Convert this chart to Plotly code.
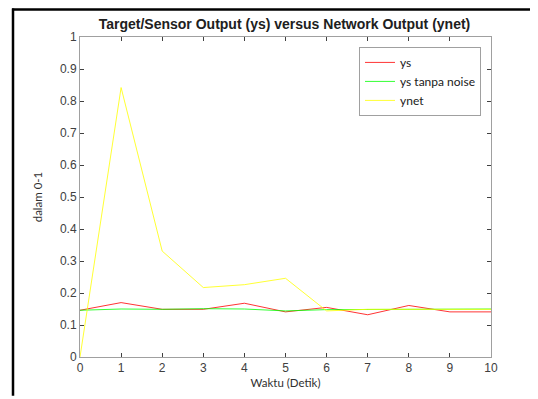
import plotly.graph_objects as go

waktu = [0, 1, 2, 3, 4, 5, 6, 7, 8, 9, 10]
ys = [0.146, 0.170, 0.149, 0.149, 0.168, 0.141, 0.155, 0.132, 0.161, 0.141, 0.141]
ys_tanpa_noise = [0.146, 0.150, 0.149, 0.151, 0.150, 0.144, 0.148, 0.149, 0.149, 0.150, 0.150]
ynet = [0.0, 0.842, 0.331, 0.217, 0.226, 0.246, 0.144, 0.149, 0.149, 0.149, 0.149]
y_ticks = [0, 0.1, 0.2, 0.3, 0.4, 0.5, 0.6, 0.7, 0.8, 0.9, 1]
y_ticktext = ["0", "0.1", "0.2", "0.3", "0.4", "0.5", "0.6", "0.7", "0.8", "0.9", "1"]

# page has an 8px body margin; figure is sized/offset to compensate
OFF = 8
W, H = 538 - OFF, 399 - OFF
L, R, T, B = 80 - OFF, 47, 37 - OFF, 39
pw, ph = W - L - R, H - T - B

def px(x):  # page x -> paper
    return (x - OFF - L) / pw

def py(y):  # page y -> paper
    return (H - B - (y - OFF)) / ph

fig = go.Figure()
fig.add_trace(go.Scatter(x=waktu, y=ys, mode="lines", name="ys",
                         line=dict(color="#ff0000", width=0.8)))
fig.add_trace(go.Scatter(x=waktu, y=ys_tanpa_noise, mode="lines", name="ys tanpa noise",
                         line=dict(color="#00ff00", width=0.8)))
fig.add_trace(go.Scatter(x=waktu, y=ynet, mode="lines", name="ynet",
                         line=dict(color="#ffff00", width=0.8)))

axis_common = dict(showgrid=False, zeroline=False, showline=True, linecolor="#a0a0a0",
                   linewidth=1, mirror="ticks", ticks="inside", ticklen=4,
                   tickcolor="#404040", tickwidth=1,
                   tickfont=dict(family="Liberation Sans, Arial", size=12, color="#404040"))

fig.update_layout(
    width=W, height=H,
    margin=dict(l=L, r=R, t=T, b=B),
    paper_bgcolor="white", plot_bgcolor="white",
    title=dict(text="<b>Target/Sensor Output (ys) versus Network Output (ynet)</b>",
               x=(284.5 - OFF) / W, xanchor="center", y=1 - (24 - OFF) / H, yanchor="middle",
               font=dict(family="Liberation Sans, Arial", size=14, color="#202020")),
    xaxis=dict(range=[0, 10], tickvals=waktu, **axis_common,
               title=dict(text="Waktu (Detik)", standoff=4,
                          font=dict(family="Lato, Open Sans", size=11.5, color="#303030"))),
    yaxis=dict(range=[0, 1], tickvals=y_ticks, ticktext=y_ticktext, **axis_common,
               title=dict(text="dalam 0-1", standoff=14,
                          font=dict(family="Lato, Open Sans", size=11.5, color="#303030"))),
    legend=dict(x=px(359), y=py(47), xanchor="left", yanchor="top",
                bordercolor="#a0a0a0", borderwidth=1, bgcolor="white",
                font=dict(family="Lato, Open Sans", size=12, color="#202020"),
                tracegroupgap=0, itemwidth=30),
    showlegend=True,
)

fig.add_shape(type="line", xref="paper", yref="paper",
              x0=px(12), x1=px(538), y0=py(9.3), y1=py(9.3),
              line=dict(color="black", width=2.5))
fig.add_shape(type="line", xref="paper", yref="paper",
              x0=px(13), x1=px(13), y0=py(8.2), y1=py(399),
              line=dict(color="black", width=2.5))

fig.write_html("out.html")
